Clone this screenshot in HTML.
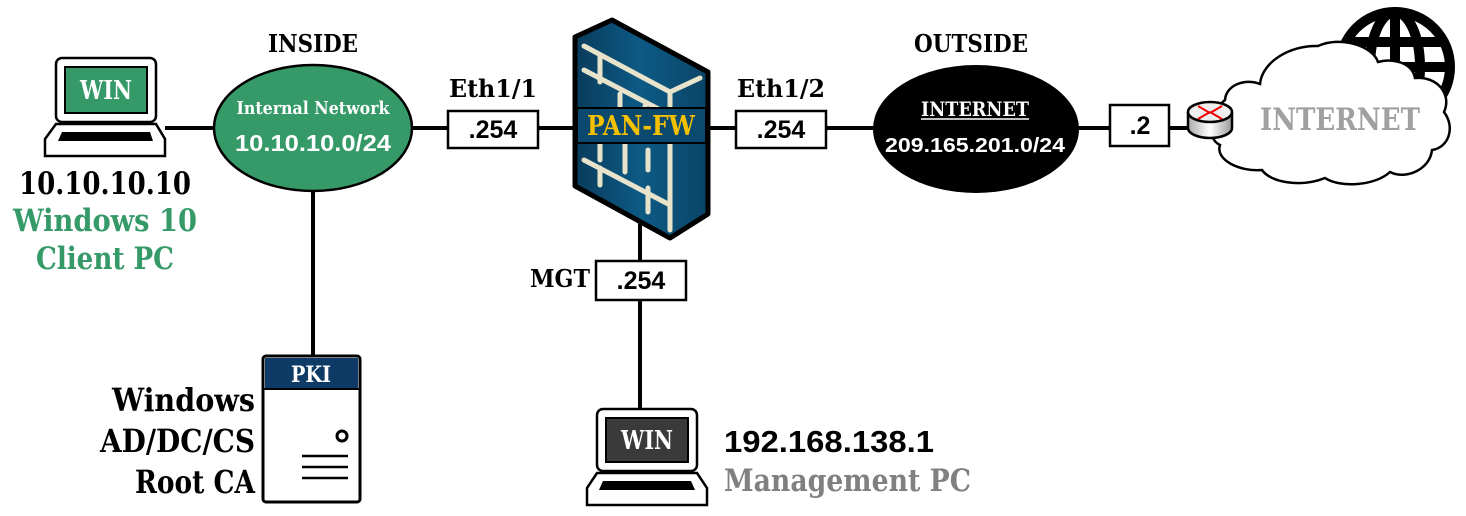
<!DOCTYPE html>
<html><head><meta charset="utf-8"><style>
html,body{margin:0;padding:0;background:#fff;width:1466px;height:516px;overflow:hidden}
svg{display:block}
text{font-family:"DejaVu Serif","Liberation Serif",serif;font-weight:bold;font-stretch:condensed}
.s{font-family:"Liberation Sans",sans-serif;font-weight:bold}
</style></head><body>
<svg width="1466" height="516" viewBox="0 0 1466 516" xmlns="http://www.w3.org/2000/svg">
<defs>
<linearGradient id="fw" x1="0" y1="0" x2="1" y2="0"><stop offset="0" stop-color="#0a3c5c"/><stop offset="0.5" stop-color="#0d5a85"/><stop offset="1" stop-color="#0a4466"/></linearGradient>
<linearGradient id="rt" x1="0" y1="0" x2="1" y2="0"><stop offset="0" stop-color="#aaa"/><stop offset="0.5" stop-color="#fff"/><stop offset="1" stop-color="#999"/></linearGradient>
</defs>
<g stroke="#000" stroke-width="4" fill="none">
<line x1="165" y1="128" x2="215" y2="128"/>
<line x1="411" y1="128" x2="448" y2="128"/>
<line x1="538" y1="128" x2="577" y2="128"/>
<line x1="705" y1="128" x2="736" y2="128"/>
<line x1="826" y1="128" x2="874" y2="128"/>
<line x1="1078" y1="128" x2="1110" y2="128"/>
<line x1="1169" y1="128" x2="1190" y2="128"/>
<line x1="313" y1="190" x2="313" y2="356"/>
<line x1="640" y1="220" x2="640" y2="262"/>
<line x1="640" y1="300" x2="640" y2="410"/>
</g>
<!-- Client laptop -->
<rect x="56" y="58" width="100" height="64" rx="6" fill="#fff" stroke="#000" stroke-width="2.5"/>
<rect x="65" y="67" width="82" height="46" fill="#359a68" stroke="#000" stroke-width="2"/>
<text x="106" y="99" font-size="26" fill="#fff" text-anchor="middle" textLength="52" lengthAdjust="spacingAndGlyphs">WIN</text>
<polygon points="56,124 156,124 165,139 165,156 45,156 45,139" fill="#fff" stroke="#000" stroke-width="2.5"/>
<polygon points="62,132 150,132 153,141 58,141" fill="#000"/>
<text x="105" y="194" font-size="31" text-anchor="middle" textLength="172" lengthAdjust="spacingAndGlyphs">10.10.10.10</text>
<text x="105" y="231" font-size="31" fill="#359a68" text-anchor="middle" textLength="184" lengthAdjust="spacingAndGlyphs">Windows 10</text>
<text x="105" y="269" font-size="31" fill="#359a68" text-anchor="middle" textLength="138" lengthAdjust="spacingAndGlyphs">Client PC</text>
<!-- Inside -->
<text x="313" y="52" font-size="24" text-anchor="middle" textLength="90" lengthAdjust="spacingAndGlyphs">INSIDE</text>
<ellipse cx="313" cy="128" rx="99" ry="63" fill="#359a68" stroke="#000" stroke-width="2.5"/>
<text x="313" y="114" font-size="18" fill="#fff" text-anchor="middle" textLength="153" lengthAdjust="spacingAndGlyphs">Internal Network</text>
<text x="313" y="151" font-size="23" fill="#fff" text-anchor="middle" textLength="156" lengthAdjust="spacingAndGlyphs" class="s">10.10.10.0/24</text>
<!-- eth1/1 -->
<text x="493" y="97" font-size="24" text-anchor="middle" textLength="88" lengthAdjust="spacingAndGlyphs">Eth1/1</text>
<rect x="448" y="111" width="90" height="37" fill="#fff" stroke="#000" stroke-width="2.5"/>
<text x="493" y="138" font-size="25" text-anchor="middle" class="s">.254</text>
<!-- firewall -->
<polygon points="575,37 612,20 708,72 708,214 670,238 575,186" fill="url(#fw)" stroke="#000" stroke-width="5" stroke-linejoin="round"/>
<g stroke="#e8e4cc" stroke-width="5" fill="none" stroke-linecap="round">
<polyline points="584,46 670,92 700,78"/>
<line x1="670" y1="92" x2="670" y2="230"/>
<line x1="600" y1="56" x2="600" y2="82"/>
<line x1="584" y1="70" x2="670" y2="115"/>
<line x1="620" y1="94" x2="620" y2="108"/>
<line x1="645" y1="106" x2="645" y2="108"/>
<line x1="600" y1="143" x2="600" y2="160"/>
<line x1="584" y1="160" x2="670" y2="205"/>
<line x1="625" y1="143" x2="625" y2="172"/>
<line x1="600" y1="168" x2="600" y2="185"/>
<line x1="648" y1="188" x2="648" y2="212"/>
<line x1="648" y1="150" x2="648" y2="170"/>
</g>
<rect x="577" y="108" width="129" height="35" fill="#0b4a6e" stroke="#000" stroke-width="2"/>
<text x="641" y="135" font-size="27" fill="#f5c000" text-anchor="middle" textLength="108" lengthAdjust="spacingAndGlyphs">PAN-FW</text>
<!-- eth1/2 -->
<text x="781" y="97" font-size="24" text-anchor="middle" textLength="88" lengthAdjust="spacingAndGlyphs">Eth1/2</text>
<rect x="736" y="111" width="90" height="37" fill="#fff" stroke="#000" stroke-width="2.5"/>
<text x="781" y="138" font-size="25" text-anchor="middle" class="s">.254</text>
<!-- outside -->
<text x="971" y="52" font-size="24" text-anchor="middle" textLength="114" lengthAdjust="spacingAndGlyphs">OUTSIDE</text>
<ellipse cx="976" cy="129" rx="103" ry="64" fill="#000"/>
<text x="975" y="116" font-size="20" fill="#fff" text-anchor="middle" textLength="108" lengthAdjust="spacingAndGlyphs">INTERNET</text>
<line x1="921" y1="119" x2="1029" y2="119" stroke="#fff" stroke-width="1.5"/>
<text x="975" y="152" font-size="20" fill="#fff" text-anchor="middle" textLength="180" lengthAdjust="spacingAndGlyphs" class="s">209.165.201.0/24</text>
<!-- .2 -->
<rect x="1110" y="105" width="59" height="41" fill="#fff" stroke="#000" stroke-width="2.5"/>
<text x="1140" y="134" font-size="25" text-anchor="middle" class="s">.2</text>
<!-- globe -->
<g stroke="#000" stroke-width="10" fill="none">
<circle cx="1395" cy="67" r="55"/>
<ellipse cx="1395" cy="67" rx="25" ry="55"/>
<line x1="1395" y1="12" x2="1395" y2="122"/>
<line x1="1340" y1="67" x2="1450" y2="67"/>
<line x1="1346" y1="42" x2="1444" y2="42"/>
<line x1="1346" y1="92" x2="1444" y2="92"/>
</g>
<!-- cloud -->
<path d="M1225,100 C1226,85 1245,78 1260,84 C1262,62 1290,45 1318,46 C1340,36 1372,45 1378,62 C1392,58 1412,62 1415,78 C1438,76 1452,95 1444,112 C1456,128 1448,148 1432,150 C1430,170 1405,180 1390,172 C1375,186 1340,188 1325,178 C1300,188 1270,182 1262,170 C1240,172 1215,160 1220,145 C1205,138 1210,112 1225,100 Z" fill="#fff" stroke="#000" stroke-width="2.5"/>
<text x="1340" y="130" font-size="31" fill="#a0a0a0" text-anchor="middle" textLength="160" lengthAdjust="spacingAndGlyphs">INTERNET</text>
<!-- router -->
<path d="M1188,112 L1188,128 A22,10 0 0 0 1232,128 L1232,112" fill="url(#rt)" stroke="#000" stroke-width="2.5"/>
<ellipse cx="1210" cy="112" rx="22" ry="10" fill="#eee" stroke="#000" stroke-width="2.5"/>
<g stroke="#e00" stroke-width="2"><line x1="1198" y1="106" x2="1210" y2="113"/><line x1="1222" y1="106" x2="1210" y2="113"/><line x1="1198" y1="119" x2="1210" y2="112"/><line x1="1222" y1="119" x2="1210" y2="112"/></g>
<!-- MGT -->
<text x="560" y="287" font-size="24" text-anchor="middle" textLength="60" lengthAdjust="spacingAndGlyphs">MGT</text>
<rect x="596" y="261" width="90" height="39" fill="#fff" stroke="#000" stroke-width="2.5"/>
<text x="641" y="289" font-size="25" text-anchor="middle" class="s">.254</text>
<!-- mgmt laptop -->
<rect x="597" y="409" width="100" height="62" rx="6" fill="#fff" stroke="#000" stroke-width="2.5"/>
<rect x="606" y="418" width="82" height="44" fill="#3a3a3a" stroke="#000" stroke-width="2"/>
<text x="647" y="449" font-size="26" fill="#fff" text-anchor="middle" textLength="52" lengthAdjust="spacingAndGlyphs">WIN</text>
<polygon points="597,473 697,473 707,488 707,505 587,505 587,488" fill="#fff" stroke="#000" stroke-width="2.5"/>
<polygon points="603,481 691,481 695,490 599,490" fill="#000"/>
<text x="724" y="452" font-size="31" textLength="210" lengthAdjust="spacingAndGlyphs" class="s">192.168.138.1</text>
<text x="724" y="491" font-size="31" fill="#808080" textLength="247" lengthAdjust="spacingAndGlyphs">Management PC</text>
<!-- server -->
<rect x="263" y="356" width="97" height="146" rx="3" fill="#fff" stroke="#000" stroke-width="3"/>
<rect x="265" y="358" width="93" height="30" fill="#0e3a66"/>
<line x1="263" y1="389" x2="360" y2="389" stroke="#000" stroke-width="2"/>
<text x="311" y="382" font-size="22" fill="#fff" text-anchor="middle" textLength="40" lengthAdjust="spacingAndGlyphs">PKI</text>
<circle cx="342" cy="436" r="5" fill="none" stroke="#000" stroke-width="3"/>
<g stroke="#000" stroke-width="2.5"><line x1="302" y1="456" x2="348" y2="456"/><line x1="302" y1="467" x2="348" y2="467"/><line x1="302" y1="478" x2="348" y2="478"/></g>
<text x="255" y="411" font-size="32" text-anchor="end" textLength="143" lengthAdjust="spacingAndGlyphs">Windows</text>
<text x="255" y="452" font-size="32" text-anchor="end" textLength="155" lengthAdjust="spacingAndGlyphs">AD/DC/CS</text>
<text x="255" y="493" font-size="32" text-anchor="end" textLength="120" lengthAdjust="spacingAndGlyphs">Root CA</text>
</svg>
</body></html>
